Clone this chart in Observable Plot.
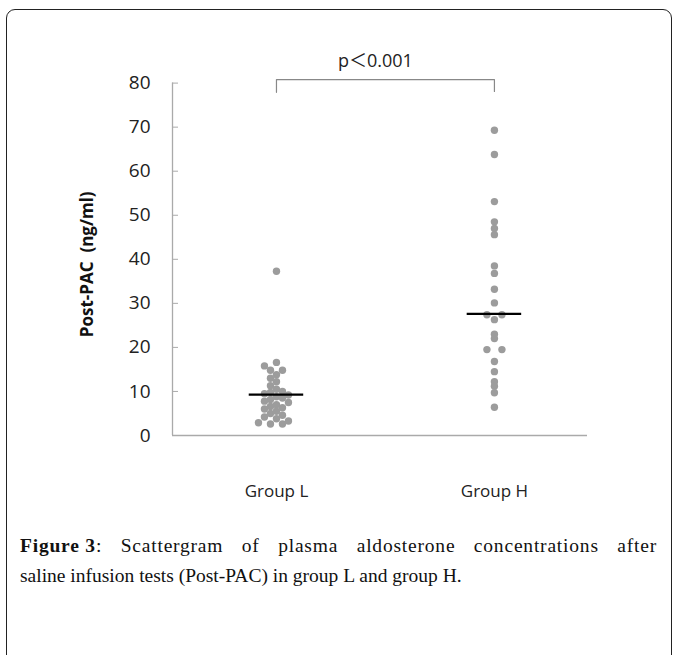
<!DOCTYPE html>
<html><head><meta charset="utf-8">
<script src="https://cdn.jsdelivr.net/npm/d3@7"></script>
<script src="https://cdn.jsdelivr.net/npm/@observablehq/plot@0.6"></script>
<style>
body{margin:0;background:#fff;width:678px;height:655px;position:relative;overflow:hidden}
#frame{position:absolute;left:6px;top:9px;width:666px;height:670px;border:1.4px solid #222;border-radius:9px;box-sizing:border-box}
#chart{position:absolute;left:0;top:0}
#caption{position:absolute;left:20px;top:531px;width:637px;font-family:"Liberation Serif",serif;font-size:19.5px;line-height:30px;color:#111}
#caption .l1{text-align:justify;text-align-last:justify;letter-spacing:0.8px}
#caption .fig{display:inline-block}
#caption b{font-weight:bold}
</style></head><body>
<div id="frame"></div>
<div id="chart"></div>
<div id="caption"><div class="l1"><span class="fig"><b>Figure 3</b>:</span> Scattergram of plasma aldosterone concentrations after</div><div>saline infusion tests (Post-PAC) in group L and group H.</div></div>
<script>
// ---- data ----
const groups = ["Group L", "Group H"];
const groupL = [37.3, 16.6, 15.8, 14.8, 14.8, 13.8, 13.0, 12.2, 11.3, 10.5, 10.0, 9.8, 9.5, 9.2, 8.8, 8.5, 8.2, 7.8, 7.5, 7.0, 6.6, 6.3, 6.0, 5.5, 5.0, 4.6, 4.2, 3.8, 3.3, 2.9, 2.6, 2.6];
const groupH = [69.3, 63.8, 53.1, 48.5, 47.0, 45.6, 38.5, 36.8, 33.2, 30.1, 27.4, 27.4, 26.3, 23.0, 22.0, 19.5, 19.5, 16.8, 14.5, 12.2, 11.2, 9.7, 6.4];
const groupMeans = [9.3, 27.6];
const yTicks = [0, 10, 20, 30, 40, 50, 60, 70, 80];
const yLabel = "Post-PAC\u00a0\u00a0(ng/ml)";
const pLabel = "p\uff1c0.001";
const bracketTop = 80.8, bracketLeftBottom = 77.9, bracketRightBottom = 78.1, pLabelY = 85;

// ---- layout ----
const W = 678, H = 520;
const mLeft = 172, mRight = 91, mTop = 82.6, mBottom = 85;
const xDomain = [-0.477, 1.427];
const pxPerX = (W - mLeft - mRight) / (xDomain[1] - xDomain[0]);
const pxPerY = (H - mTop - mBottom) / 80;

// simple beeswarm: identical values are spread symmetrically, others stacked, dodging only when too close
function swarm(values, step, minDist) {
  const placed = [];
  const offs = new Array(values.length);
  const counts = d3.rollup(values.map((v, i) => ({v, i})), g => g.map(d => d.i), d => d.v);
  for (const [v, idx] of counts) {
    if (idx.length < 2) continue;
    idx.forEach((i, j) => {
      offs[i] = idx.length === 2 ? (j === 0 ? -step : step) : (j - (idx.length - 1) / 2) * step;
      placed.push({x: offs[i], y: v * pxPerY});
    });
  }
  values.forEach((v, i) => {
    if (offs[i] !== undefined) return;
    const y = v * pxPerY;
    let x = 0;
    outer: for (let k = 0; k < 20; k++) {
      const cands = k === 0 ? [0] : [-k * step, k * step];
      for (const c of cands) {
        if (placed.every(p => (p.x - c) ** 2 + (p.y - y) ** 2 >= minDist ** 2)) { x = c; break outer; }
      }
    }
    offs[i] = x;
    placed.push({x, y});
  });
  return offs;
}

const rows = [];
[[groupL, 6, 6], [groupH, 7.5, 4]].forEach(([vals, step, minD], gi) => {
  const offs = swarm(vals, step, minD);
  vals.forEach((v, j) => rows.push({group: groups[gi], gi, value: v, xv: gi + offs[j] / pxPerX}));
});
const meanRows = groupMeans.map((m, gi) => ({gi, value: m}));
const bracket = [
  {x: 0, y: bracketLeftBottom}, {x: 0, y: bracketTop},
  {x: 1, y: bracketTop}, {x: 1, y: bracketRightBottom}
];

const chart = Plot.plot({
  width: W, height: H,
  marginLeft: mLeft, marginRight: mRight, marginTop: mTop, marginBottom: mBottom,
  style: {fontFamily: "'Open Sans', 'Noto Sans CJK JP', sans-serif", fontSize: "19px", color: "#222", background: "transparent"},
  x: {domain: xDomain, axis: null},
  y: {domain: [0, 80], axis: null},
  marks: [
    Plot.ruleY([0], {stroke: "#aaa", strokeWidth: 1.3}),
    Plot.ruleX([xDomain[0]], {stroke: "#aaa", strokeWidth: 1.3}),
    Plot.axisY(yTicks, {anchor: "left", tickSize: -6, tickPadding: 28, stroke: "#aaa", fill: "#222", fontSize: 19, label: null}),
    Plot.axisX([0, 1], {anchor: "bottom", tickSize: 0, tickPadding: 49, tickFormat: i => groups[i], fill: "#222", fontSize: 17, label: null}),
    Plot.dot(rows, {x: "xv", y: "value", r: 3.7, fill: "#9c9c9c", stroke: "none"}),
    Plot.ruleY(meanRows, {y: "value", x1: d => d.gi - 0.125, x2: d => d.gi + 0.125, stroke: "#000", strokeWidth: 2.3}),
    Plot.line(bracket, {x: "x", y: "y", stroke: "#888", strokeWidth: 1.2}),
    Plot.text([pLabel], {x: 0.5, y: pLabelY, dx: -10, text: d => d, fontSize: 18, fill: "#222"}),
    Plot.text([yLabel], {frameAnchor: "left", textAnchor: "middle", dx: -85, dy: 5, rotate: -90, text: d => d, fontSize: 17, fontWeight: "bold", fill: "#111"})
  ]
});
document.getElementById("chart").appendChild(chart);
</script>
</body></html>
